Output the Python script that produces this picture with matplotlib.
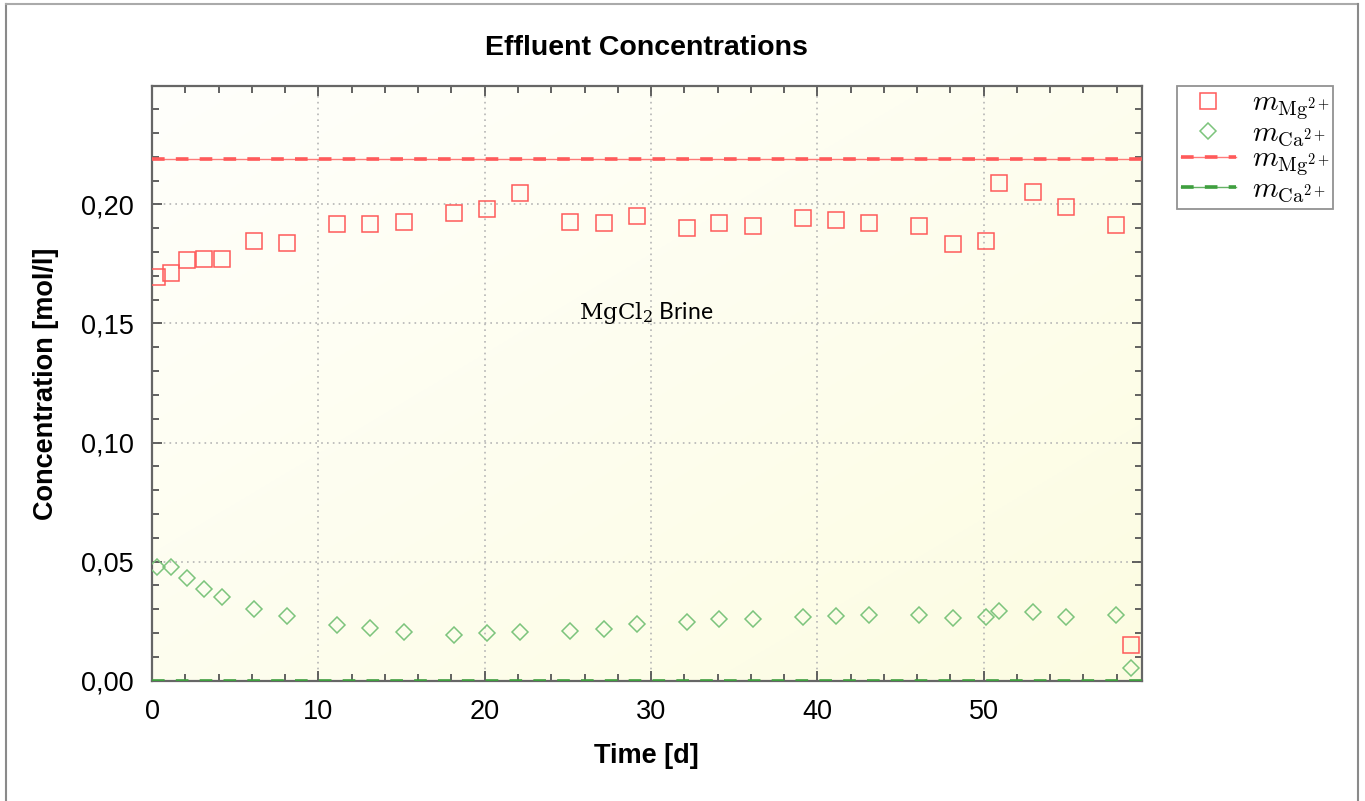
import numpy as np
import matplotlib.pyplot as plt
from matplotlib.lines import Line2D
from matplotlib.legend_handler import HandlerTuple
from matplotlib.ticker import MultipleLocator, FuncFormatter

# measured effluent data
time_d = [0.30, 1.14, 2.10, 3.14, 4.21, 6.15, 8.09, 11.14, 13.12, 15.14,
          18.13, 20.13, 22.15, 25.10, 27.18, 29.15, 32.15, 34.11, 36.15, 39.12,
          41.11, 43.12, 46.13, 48.14, 50.12, 50.94, 52.94, 54.95, 57.95, 58.83]
m_mg = [0.1694, 0.1710, 0.1765, 0.1772, 0.1770, 0.1845, 0.1836, 0.1919, 0.1919, 0.1924,
        0.1962, 0.1980, 0.2049, 0.1927, 0.1921, 0.1951, 0.1900, 0.1921, 0.1909, 0.1941,
        0.1935, 0.1923, 0.1909, 0.1835, 0.1847, 0.2091, 0.2052, 0.1989, 0.1914, 0.0151]
m_ca = [0.0479, 0.0476, 0.0431, 0.0386, 0.0350, 0.0302, 0.0270, 0.0235, 0.0220, 0.0204,
        0.0193, 0.0199, 0.0204, 0.0207, 0.0218, 0.0239, 0.0245, 0.0258, 0.0260, 0.0266,
        0.0272, 0.0276, 0.0275, 0.0262, 0.0269, 0.0294, 0.0287, 0.0267, 0.0277, 0.0053]

# injected brine concentrations
inflow_mg = 0.219
inflow_ca = 0.0

RED = "#ff5a5a"
GREEN = "#3f9f3f"
LIGHT_GREEN = "#7cc47c"

plt.rcParams["font.family"] = ["Liberation Sans", "DejaVu Sans"]
plt.rcParams["mathtext.fontset"] = "cm"

fig = plt.figure(figsize=(13.65, 8.01), dpi=100)
ax = fig.add_axes([0.1114, 0.1502, 0.7250, 0.7424])

# yellowish gradient background, white top-left -> yellow bottom-right
gx, gy = np.meshgrid(np.linspace(0, 1, 200), np.linspace(0, 1, 200))
g = (gx + gy) / 2
c0 = np.array([1.0, 1.0, 0.985])
c1 = np.array([0.99, 0.99, 0.885])
img = c0[None, None, :] * (1 - g[..., None]) + c1[None, None, :] * g[..., None]
ax.imshow(img, extent=[0, 1, 0, 1], transform=ax.transAxes, aspect="auto",
          origin="upper", zorder=0)

ax.set_xlim(0, 59.5)
ax.set_ylim(0, 0.2497)

ax.grid(True, which="major", color="#b5b5b5", linestyle=(0, (1, 2.5)), linewidth=1.2, zorder=1)

ln_mg_thin = ax.axhline(inflow_mg, color=RED, lw=1.0, alpha=0.8, zorder=2)
ln_mg = ax.axhline(inflow_mg, color=RED, lw=2.6, dashes=(3.5, 3.1), zorder=3)
ln_ca_thin = ax.axhline(inflow_ca, color=GREEN, lw=1.0, alpha=0.8, zorder=2)
ln_ca = ax.axhline(inflow_ca, color=GREEN, lw=2.6, dashes=(3.5, 3.1), zorder=3)

sq = ax.plot(time_d, m_mg, linestyle="none", marker="s", markersize=12,
             markerfacecolor="none", markeredgecolor=RED, markeredgewidth=1.1, zorder=4)[0]
di = ax.plot(time_d, m_ca, linestyle="none", marker="D", markersize=8.5,
             markerfacecolor="none", markeredgecolor=LIGHT_GREEN, markeredgewidth=1.1, zorder=4)[0]

ax.text(29.7, 0.1545, r"$\mathrm{MgCl_2}$ Brine", fontsize=16.5, family="Lato",
        math_fontfamily="dejavuserif", ha="center", va="center", zorder=5)

ax.xaxis.set_major_locator(MultipleLocator(10))
ax.xaxis.set_minor_locator(MultipleLocator(2))
ax.yaxis.set_major_locator(MultipleLocator(0.05))
ax.yaxis.set_minor_locator(MultipleLocator(0.01))
ax.yaxis.set_major_formatter(FuncFormatter(lambda v, p: f"{v:.2f}".replace(".", ",")))
ax.tick_params(which="both", direction="in", top=True, right=True, color="#555555",
               width=1.3)
ax.tick_params(which="major", length=7, labelsize=19.5, pad=13)
ax.tick_params(which="minor", length=5)
for sp in ax.spines.values():
    sp.set_color("#666666")
    sp.set_linewidth(1.6)

ax.set_title("Effluent Concentrations", fontsize=20.5, fontweight="bold", pad=22)
ax.set_xlabel("Time [d]", fontsize=19.5, fontweight="bold", labelpad=13)
ax.set_ylabel("Concentration [mol/l]", fontsize=19.5, fontweight="bold", labelpad=16)

handles = [sq, di, (ln_mg_thin, ln_mg), (ln_ca_thin, ln_ca)]
labels = [r"$m_{\mathrm{Mg}^{2+}}$", r"$m_{\mathrm{Ca}^{2+}}$",
          r"$m_{\mathrm{Mg}^{2+}}$", r"$m_{\mathrm{Ca}^{2+}}$"]
leg = ax.legend(handles, labels, loc="upper left", bbox_to_anchor=(1.0357, 1.0),
                borderaxespad=0, fancybox=False, edgecolor="#777777", fontsize=21,
                handlelength=1.9, handletextpad=0.55, labelspacing=-0.13,
                borderpad=0.12, handler_map={tuple: HandlerTuple(ndivide=1)})
leg.get_frame().set_linewidth(1.3)

# outer frame of the figure
fig.add_artist(Line2D([6 / 1365, 6 / 1365], [0, 797 / 801], color="#8a8a8a", lw=1.5))
fig.add_artist(Line2D([6 / 1365, 1358 / 1365], [797 / 801, 797 / 801], color="#aaaaaa", lw=1.5))
fig.add_artist(Line2D([1358 / 1365, 1358 / 1365], [0, 797 / 801], color="#8a8a8a", lw=1.5))

fig.savefig("out.png", dpi=100)
